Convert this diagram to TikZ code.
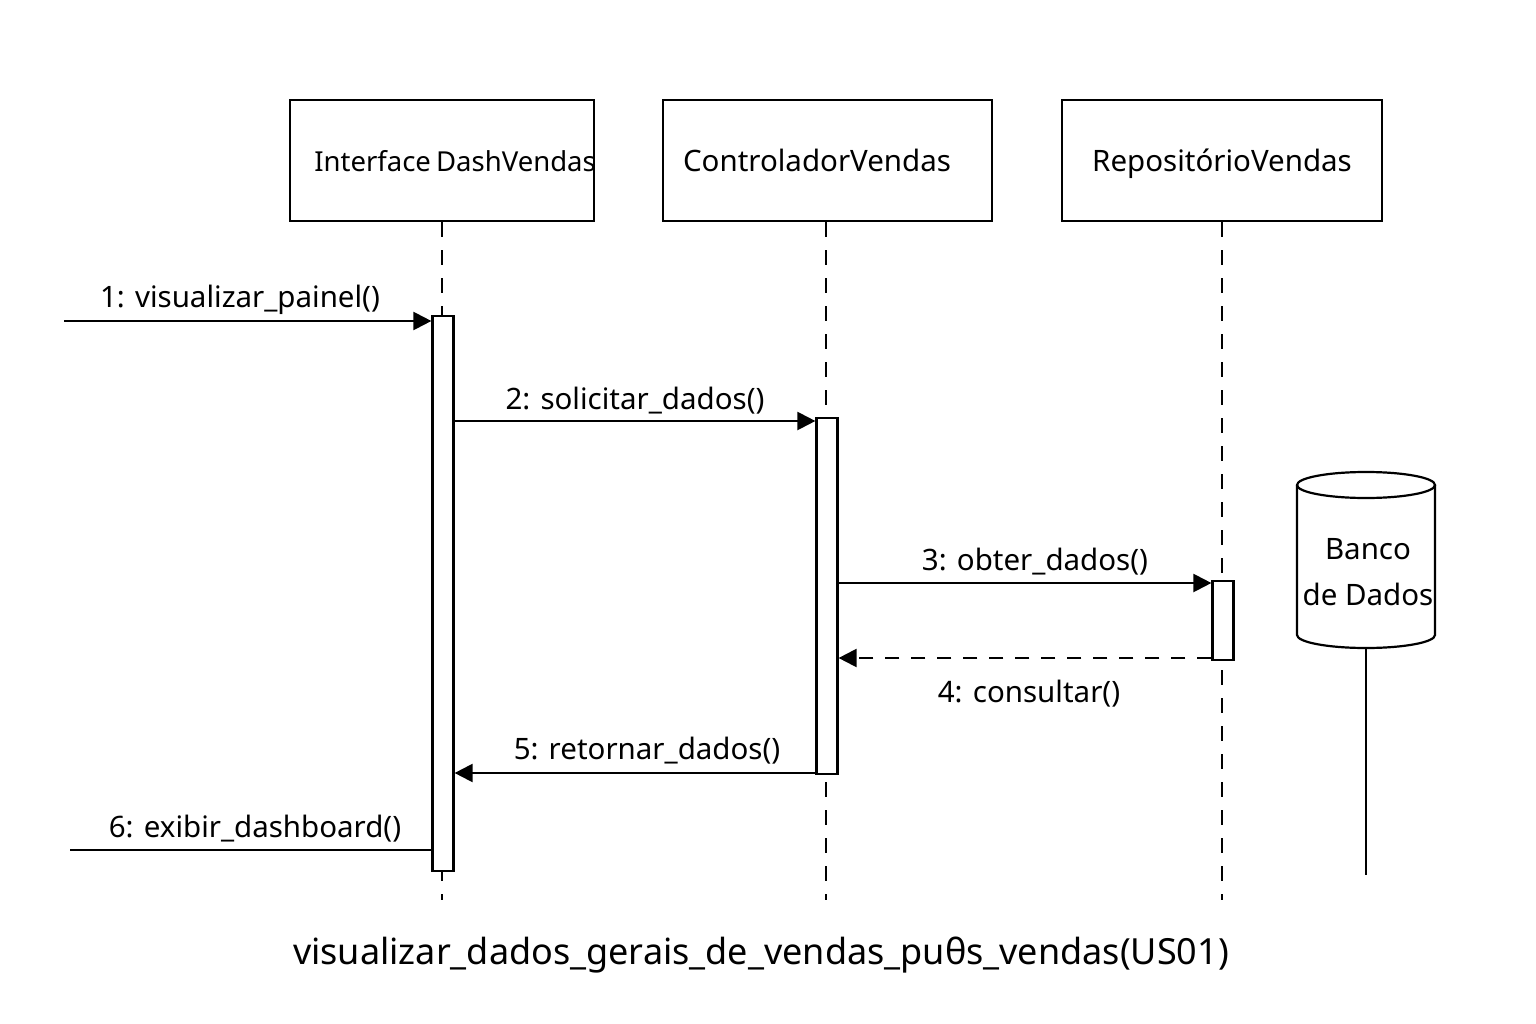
\documentclass[tikz,border=0pt]{standalone}
\usepackage{fontspec}
\setmainfont{Noto Sans}
\usetikzlibrary{arrows.meta}
\begin{document}
\begin{tikzpicture}[x=1pt,y=-1pt,
  every node/.style={font=\fontsize{29.5}{36}\selectfont, inner sep=0pt},
  obj/.style={draw, line width=2.2pt, minimum height=121pt},
  life/.style={line width=2.2pt, dash pattern=on 15pt off 13pt},
  act/.style={draw, fill=white, line width=2.2pt, minimum width=21pt},
  msg/.style={line width=2.2pt, -{Triangle[length=18pt,width=18pt]}},
  ret/.style={line width=2.2pt, dash pattern=on 14pt off 12pt, -{Triangle[length=18pt,width=18pt]}},
  lbl/.style={anchor=base}]
\useasboundingbox (0,0) rectangle (1536,1024);
% objects
\node[obj, minimum width=304pt] (b1) at (442,160.5) {};
\node[lbl, font=\fontsize{27.5}{34}\selectfont] (t1) at (455,172) {Interface\hspace{-2pt} DashVendas};
\node[obj, minimum width=329pt] (b2) at (827.5,160.5) {};
\node[lbl] (t2) at (817,172) {ControladorVendas};
\node[obj, minimum width=320pt] (b3) at (1222,160.5) {};
\node[lbl] (t3) at (1222,172) {RepositórioVendas};
% lifeline ends
\coordinate (e1) at (442,900);
\coordinate (e2) at (826,900);
\coordinate (e3) at (1222,900);
\draw[life] (b1.south -| e1) -- (e1);
\draw[life] (b2.south -| e2) -- (e2);
\draw[life] (b3.south -| e3) -- (e3);
% activations
\node[act, minimum height=555pt] (a1) at (443,593.5) {};
\node[act, minimum height=356pt] (a2) at (827,596) {};
\node[act, minimum height=79pt] (a3) at (1223,620.5) {};
% database
\draw[line width=2.2pt] (1297,485) -- (1297,635)
  arc[start angle=180, end angle=360, x radius=69pt, y radius=13pt] -- (1435,485);
\draw[line width=2.2pt] (1366,485) ellipse [x radius=69pt, y radius=13pt];
\node[align=center, font=\fontsize{29.5}{46}\selectfont] (db) at (1368,572) {Banco\\de Dados};
\coordinate (dbb) at (1366,648);
\coordinate (dbe) at (1366,875);
\draw[line width=2.2pt] (dbb) -- (dbe);
% messages
\coordinate (m1) at (64,321);
\draw[msg] (m1) -- (a1.west |- m1);
\node[lbl] at (240,307) {1: visualizar\_painel()};
\coordinate (m2) at (454,421);
\draw[msg] (a1.east |- m2) -- (a2.west |- m2);
\node[lbl] at (635,409) {2: solicitar\_dados()};
\coordinate (m3) at (837,583);
\draw[msg] (a2.east |- m3) -- (a3.west |- m3);
\node[lbl] at (1035,570) {3: obter\_dados()};
\coordinate (m4) at (837,658);
\draw[ret] (a3.west |- m4) -- (a2.east |- m4);
\node[lbl] at (1029,702) {4: consultar()};
\coordinate (m5) at (454,773);
\draw[msg] (a2.west |- m5) -- (a1.east |- m5);
\node[lbl] at (647,759) {5: retornar\_dados()};
\coordinate (m6) at (70,850);
\draw[line width=2.2pt] (m6) -- (a1.west |- m6);
\node[lbl] at (255,837) {6: exibir\_dashboard()};
% title
\node[font=\fontsize{36}{42}\selectfont] (title) at (761,955) {visualizar\_dados\_gerais\_de\_vendas\_puθs\_vendas(US01)};
\end{tikzpicture}
\end{document}
